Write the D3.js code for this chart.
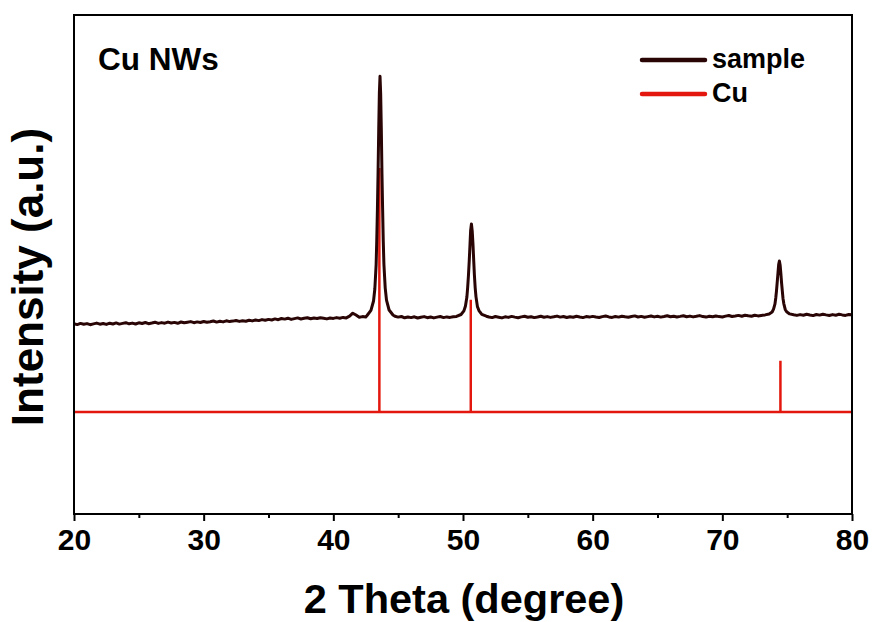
<!DOCTYPE html>
<html><head><meta charset="utf-8">
<script src="https://cdn.jsdelivr.net/npm/d3@7"></script>
<style>body{margin:0;background:#fff}svg{display:block}text{font-family:"Liberation Sans",Arial,sans-serif;font-weight:bold;fill:#000}</style>
</head><body><svg id="c" width="874" height="622"></svg>
<script>
// ---- data ----
const xTicks = [20, 30, 40, 50, 60, 70, 80];
const xMinorTicks = [25, 35, 45, 55, 65, 75];
// sample pattern: [2theta, intensity]
const sample = [
[20.00,1902],[20.25,1894],[20.50,1906],[20.75,1897],[21.00,1904],[21.25,1893],[21.50,1901],[21.75,1909],[22.00,1898],[22.25,1905],
[22.50,1896],[22.75,1908],[23.00,1900],[23.25,1911],[23.50,1899],[23.75,1906],[24.00,1913],[24.25,1902],[24.50,1909],[24.75,1900],
[25.00,1912],[25.25,1905],[25.50,1915],[25.75,1903],[26.00,1910],[26.25,1918],[26.50,1906],[26.75,1914],[27.00,1908],[27.25,1919],
[27.50,1910],[27.75,1916],[28.00,1907],[28.25,1920],[28.50,1912],[28.75,1918],[29.00,1924],[29.25,1913],[29.50,1921],[29.75,1915],
[30.00,1925],[30.25,1917],[30.50,1923],[30.75,1930],[31.00,1919],[31.25,1927],[31.50,1921],[31.75,1932],[32.00,1924],[32.25,1929],
[32.50,1935],[32.75,1926],[33.00,1933],[33.25,1928],[33.50,1938],[33.75,1931],[34.00,1940],[34.25,1934],[34.50,1944],[34.75,1937],
[35.00,1946],[35.25,1940],[35.50,1951],[35.75,1943],[36.00,1955],[36.25,1949],[36.50,1958],[36.75,1946],[37.00,1954],[37.25,1961],
[37.50,1950],[37.75,1957],[38.00,1962],[38.25,1952],[38.50,1960],[38.75,1955],[39.00,1963],[39.25,1957],[39.50,1951],[39.75,1960],
[40.00,1956],[40.25,1964],[40.50,1958],[40.75,1966],[41.00,1961],[41.25,1978],[41.50,2008],[41.75,1990],[42.00,1968],[42.25,1974],
[42.50,1970],[42.60,1985],[42.90,2036],[43.10,2130],[43.20,2250],[43.30,2492],[43.35,2740],[43.40,3046],[43.45,3415],[43.50,3840],
[43.55,4210],[43.60,4378],[43.65,4205],[43.70,3850],[43.75,3405],[43.80,3055],[43.85,2730],[43.90,2500],[44.00,2262],[44.10,2138],
[44.30,2040],[44.60,1990],[44.75,1978],[45.00,1969],[45.25,1975],[45.50,1962],[45.75,1970],[46.00,1964],[46.25,1972],[46.50,1960],
[46.75,1968],[47.00,1974],[47.25,1963],[47.50,1970],[47.75,1961],[48.00,1969],[48.25,1975],[48.50,1964],[48.75,1971],[49.00,1966],
[49.25,1973],[49.50,1976],[49.85,1995],[50.07,2031],[50.19,2080],[50.30,2170],[50.36,2266],[50.42,2385],[50.48,2528],[50.54,2694],
[50.59,2836],[50.65,2900],[50.71,2832],[50.77,2697],[50.83,2524],[50.88,2388],[50.94,2262],[51.00,2174],[51.11,2076],[51.23,2034],
[51.45,1996],[51.80,1978],[52.00,1970],[52.25,1964],[52.50,1975],[52.75,1968],[53.00,1961],[53.25,1972],[53.50,1966],[53.75,1976],
[54.00,1969],[54.25,1963],[54.50,1971],[54.75,1977],[55.00,1967],[55.25,1973],[55.50,1964],[55.75,1970],[56.00,1978],[56.25,1968],
[56.50,1974],[56.75,1966],[57.00,1972],[57.25,1979],[57.50,1969],[57.75,1975],[58.00,1965],[58.25,1973],[58.50,1968],[58.75,1977],
[59.00,1970],[59.25,1964],[59.50,1974],[59.75,1969],[60.00,1976],[60.25,1970],[60.50,1965],[60.75,1974],[61.00,1980],[61.25,1971],
[61.50,1966],[61.75,1975],[62.00,1969],[62.25,1978],[62.50,1972],[62.75,1967],[63.00,1975],[63.25,1981],[63.50,1970],[63.75,1976],
[64.00,1968],[64.25,1974],[64.50,1980],[64.75,1971],[65.00,1977],[65.25,1969],[65.50,1975],[65.75,1982],[66.00,1972],[66.25,1978],
[66.50,1970],[66.75,1976],[67.00,1983],[67.25,1973],[67.50,1979],[67.75,1971],[68.00,1977],[68.25,1984],[68.50,1974],[68.75,1969],
[69.00,1978],[69.25,1972],[69.50,1980],[69.75,1974],[70.00,1970],[70.25,1979],[70.50,1985],[70.75,1975],[71.00,1980],[71.25,1986],
[71.50,1978],[71.75,1988],[72.00,1982],[72.25,1977],[72.50,1987],[72.75,1981],[73.00,1986],[73.30,1991],[73.61,2000],[73.84,2020],
[73.95,2049],[74.06,2101],[74.12,2160],[74.175,2228],[74.23,2314],[74.29,2408],[74.344,2494],[74.40,2530],[74.456,2490],[74.51,2412],
[74.57,2308],[74.625,2232],[74.68,2155],[74.74,2104],[74.85,2046],[74.96,2022],[75.19,2001],[75.50,1992],[75.75,1986],[76.00,1994],
[76.25,1988],[76.50,1997],[76.75,1990],[77.00,1984],[77.25,1995],[77.50,1989],[77.75,1998],[78.00,1991],[78.25,1985],[78.50,1994],
[78.75,1988],[79.00,1997],[79.25,1991],[79.50,1986],[79.75,1995],[80.00,1992]];
const cuTheta = [43.55, 50.6, 74.48];
const cuIntensity = [100, 46, 21];
const seriesNames = ["sample", "Cu"];

// ---- layout ----
const svg = d3.select("#c");
const L = 74, R = 852, T = 15, B = 514;
const x = d3.scaleLinear().domain([20, 80]).range([L, R]);
const y = d3.scaleLinear().domain([0, 4990]).range([B, T]);
const cuBase = 1020, cuScale = 24.4;
const colSample = "#2a0505", colCu = "#e3170d";

// reference lines (Cu)
svg.append("line").attr("x1", x(20)).attr("x2", x(80))
  .attr("y1", y(cuBase)).attr("y2", y(cuBase))
  .attr("stroke", colCu).attr("stroke-width", 2.5);
svg.selectAll("line.cu").data(cuTheta).join("line").attr("class", "cu")
  .attr("x1", d => x(d)).attr("x2", d => x(d))
  .attr("y1", y(cuBase)).attr("y2", (d, i) => y(cuBase + cuIntensity[i] * cuScale))
  .attr("stroke", colCu).attr("stroke-width", 2.5);

// sample
svg.append("path").datum(sample)
  .attr("d", d3.line().x(d => x(d[0])).y(d => y(d[1])))
  .attr("fill", "none").attr("stroke", colSample).attr("stroke-width", 3)
  .attr("stroke-linejoin", "round");

// frame
svg.append("rect").attr("x", L).attr("y", T).attr("width", R - L).attr("height", B - T)
  .attr("fill", "none").attr("stroke", "#000").attr("stroke-width", 2);

// x axis
const ax = svg.append("g").attr("transform", `translate(0,${B})`)
  .call(d3.axisBottom(x).tickValues(xTicks).tickSize(7).tickPadding(8).tickFormat(d3.format("d")));
ax.select(".domain").remove();
ax.selectAll(".tick line").attr("stroke-width", 2);
ax.selectAll(".tick text").style("font-size", "30px").attr("dy", "0.71em");
const minor = svg.append("g").attr("transform", `translate(0,${B})`)
  .call(d3.axisBottom(x).tickValues(xMinorTicks).tickSize(4).tickFormat(""));
minor.select(".domain").remove();
minor.selectAll(".tick line").attr("stroke-width", 2);

// titles
svg.append("text").attr("x", (L + R) / 2 + 1).attr("y", 613).attr("text-anchor", "middle")
  .style("font-size", "41.5px").text("2 Theta (degree)");
svg.append("text").attr("transform", "translate(43,277) rotate(-90)").attr("text-anchor", "middle")
  .style("font-size", "44px").text("Intensity (a.u.)");
svg.append("text").attr("x", 98).attr("y", 70).style("font-size", "31.5px").text("Cu NWs");

// legend
const lg = svg.append("g");
[colSample, colCu].forEach((c, i) => {
  const yy = 60 + i * 34;
  lg.append("line").attr("x1", 642).attr("x2", 705).attr("y1", yy).attr("y2", yy)
    .attr("stroke", c).attr("stroke-width", 4.5).attr("stroke-linecap", "round");
  lg.append("text").attr("x", 712).attr("y", yy + 8).style("font-size", "27px").text(seriesNames[i]);
});
</script></body></html>
